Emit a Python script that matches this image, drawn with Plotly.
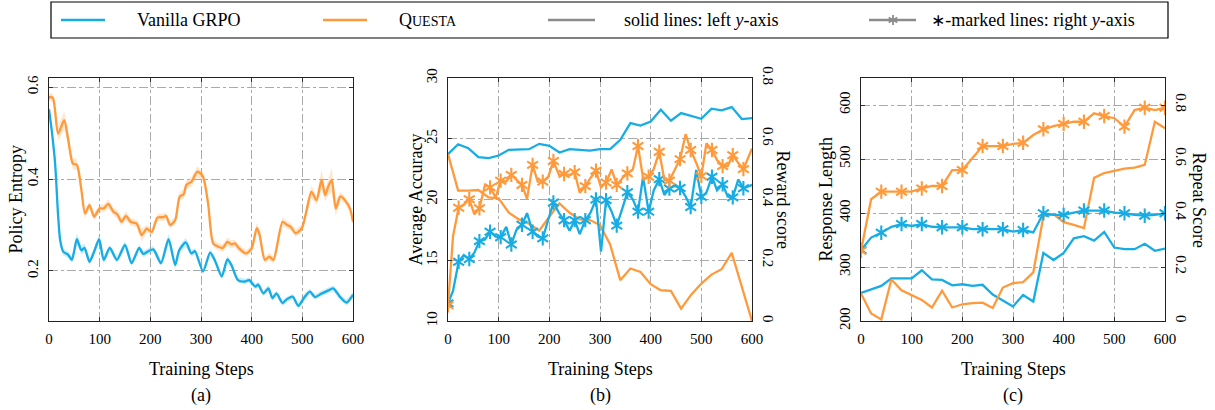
import plotly.graph_objects as go

W, H = 1215, 410
BLUE = '#17ade4'
ORANGE = '#ff9a3c'
BLUE_BAND = 'rgba(23,173,228,0.22)'
ORANGE_BAND = 'rgba(255,154,60,0.25)'
GRAY = '#8c8c8c'
FONT = 'Liberation Serif'

# ---------------- (a) Policy entropy ----------------
ent_steps_blue = [0, 6, 12, 18, 22, 28, 38, 45, 50, 55, 64, 70, 80, 88, 99, 108, 120, 134, 150, 163,
                  178, 186, 196, 206, 221, 236, 249, 257, 270, 281, 288, 304, 318, 327, 341, 352, 360, 373, 387, 395,
                  407, 413, 423, 433, 441, 449, 461, 469, 481, 492, 505, 515, 525, 538, 551, 561, 574, 587, 600]
ent_blue = [0.552, 0.50, 0.435, 0.32, 0.267, 0.242, 0.235, 0.224, 0.245, 0.269, 0.245, 0.25, 0.22, 0.239, 0.269,
            0.224, 0.25, 0.224, 0.2565, 0.217, 0.25, 0.237, 0.243, 0.247, 0.217, 0.269, 0.213, 0.245, 0.262, 0.238,
            0.243, 0.199, 0.24, 0.224, 0.188, 0.225, 0.213, 0.18, 0.177, 0.18, 0.166, 0.17, 0.151, 0.162, 0.141,
            0.151, 0.130, 0.138, 0.144, 0.124, 0.144, 0.155, 0.143, 0.151, 0.157, 0.162, 0.144, 0.131, 0.148]
ent_blue_spread = [0.006, 0.006, 0.006, 0.006, 0.008, 0.008, 0.007, 0.007, 0.007, 0.013, 0.009, 0.010, 0.007, 0.007, 0.011,
                   0.008, 0.007, 0.007, 0.008, 0.007, 0.007, 0.007, 0.007, 0.007, 0.007, 0.012, 0.010, 0.008, 0.010, 0.007,
                   0.007, 0.007, 0.007, 0.007, 0.007, 0.008, 0.007, 0.006, 0.006, 0.006, 0.006, 0.006, 0.006, 0.008, 0.006,
                   0.006, 0.006, 0.006, 0.006, 0.007, 0.008, 0.006, 0.006, 0.006, 0.006, 0.007, 0.006, 0.006, 0.006]

ent_steps_orange = [0, 2, 8, 18, 30, 38, 47, 55, 64, 71, 80, 89, 100, 108, 117, 127, 135, 143, 152, 161,
                    173, 183, 193, 203, 214, 226, 231, 239, 249, 258, 266, 271, 281, 293, 304, 314, 324, 334, 343, 352,
                    360, 367, 375, 389, 400, 410, 415, 426, 435, 443, 461, 470, 477, 487, 499, 507, 518, 528, 538, 545,
                    551, 558, 566, 575, 584, 594, 600]
ent_orange = [0.575, 0.579, 0.576, 0.499, 0.528, 0.485, 0.434, 0.431, 0.376, 0.325, 0.343, 0.318, 0.336, 0.336, 0.346,
              0.329, 0.323, 0.307, 0.320, 0.307, 0.303, 0.278, 0.292, 0.285, 0.316, 0.317, 0.320, 0.300, 0.310, 0.362,
              0.367, 0.387, 0.394, 0.416, 0.405, 0.347, 0.260, 0.253, 0.250, 0.263, 0.258, 0.260, 0.249, 0.238, 0.249,
              0.293, 0.282, 0.224, 0.231, 0.224, 0.307, 0.300, 0.296, 0.282, 0.293, 0.325, 0.372, 0.354, 0.398, 0.365,
              0.383, 0.398, 0.336, 0.362, 0.354, 0.336, 0.307]
ent_orange_spread = [0.008, 0.008, 0.010, 0.016, 0.020, 0.012, 0.012, 0.012, 0.010, 0.010, 0.008, 0.008, 0.008, 0.008, 0.010,
                     0.008, 0.010, 0.008, 0.010, 0.008, 0.008, 0.014, 0.008, 0.008, 0.008, 0.008, 0.008, 0.008, 0.008, 0.010,
                     0.010, 0.010, 0.010, 0.012, 0.010, 0.010, 0.008, 0.008, 0.008, 0.010, 0.008, 0.008, 0.008, 0.007, 0.007,
                     0.012, 0.010, 0.008, 0.008, 0.008, 0.010, 0.008, 0.008, 0.008, 0.008, 0.010, 0.014, 0.010, 0.022, 0.014,
                     0.018, 0.026, 0.016, 0.010, 0.008, 0.008, 0.008]

# ---------------- (b) Accuracy / reward ----------------
acc_steps = [0, 20, 40, 60, 80, 100, 120, 140, 160, 180, 200, 220, 240, 260, 280, 300,
             320, 340, 360, 380, 400, 420, 440, 460, 480, 500, 520, 540, 560, 580, 600]
acc_blue = [23.73, 24.55, 24.22, 23.48, 23.40, 23.62, 24.09, 24.11, 24.14, 24.58, 24.42, 23.87, 24.14, 24.09, 24.03,
            24.14, 24.14, 24.91, 26.29, 26.09, 26.42, 27.39, 26.48, 27.11, 26.89, 26.64, 27.47, 27.33, 27.61, 26.62, 26.70]
acc_orange = [23.73, 20.73, 20.73, 20.78, 20.18, 20.10, 18.91, 18.36, 18.00, 17.43, 18.58, 19.68, 18.91, 18.36, 18.31,
              17.90, 16.30, 13.36, 14.32, 14.04, 13.03, 12.53, 12.48, 11.02, 12.17, 13.08, 13.82, 14.26, 15.61, 12.80, 10.00]

rew_steps = [0, 10, 21, 31, 42, 52, 62, 73, 83, 94, 104, 115, 125, 135, 146, 156, 167, 177, 187, 198,
             208, 219, 229, 240, 250, 260, 271, 281, 292, 302, 312, 323, 333, 344, 354, 365, 375, 385, 396, 406,
             417, 427, 437, 448, 458, 469, 479, 490, 500, 510, 521, 531, 542, 552, 562, 573, 583, 600]
rew_blue = [0.058, 0.100, 0.195, 0.217, 0.204, 0.225, 0.263, 0.268, 0.294, 0.278,
            0.276, 0.310, 0.252, 0.300, 0.317, 0.355, 0.294, 0.278, 0.272, 0.332,
            0.390, 0.356, 0.332, 0.297, 0.332, 0.286, 0.332, 0.356, 0.400, 0.228,
            0.398, 0.360, 0.314, 0.370, 0.424, 0.400, 0.360, 0.475, 0.360, 0.430,
            0.467, 0.415, 0.436, 0.445, 0.438, 0.410, 0.375, 0.497, 0.409, 0.423,
            0.475, 0.430, 0.450, 0.410, 0.407, 0.466, 0.437, 0.448]
rew_orange = [0.052, 0.280, 0.373, 0.382, 0.401, 0.351, 0.371, 0.448, 0.440, 0.407,
              0.462, 0.459, 0.481, 0.464, 0.448, 0.402, 0.514, 0.459, 0.459, 0.475,
              0.527, 0.481, 0.484, 0.481, 0.490, 0.422, 0.444, 0.470, 0.495, 0.440,
              0.456, 0.499, 0.448, 0.470, 0.486, 0.500, 0.576, 0.470, 0.475, 0.500,
              0.557, 0.464, 0.462, 0.500, 0.533, 0.615, 0.563, 0.520, 0.477, 0.585,
              0.563, 0.530, 0.510, 0.510, 0.546, 0.520, 0.500, 0.568]

# ---------------- (c) Length / repeat ----------------
len_steps = [0, 20, 40, 60, 80, 100, 120, 140, 160, 180, 200, 220, 240, 260, 280, 300,
             320, 340, 360, 380, 400, 420, 440, 460, 480, 500, 520, 540, 560, 580, 600]
len_blue = [252, 258, 265, 279, 279, 279, 294, 277, 276, 266, 268, 265, 267, 249, 238, 227,
            248, 236, 326, 313, 326, 353, 357, 349, 365, 336, 333, 333, 343, 330, 334]
len_orange = [251, 214, 203, 277, 257, 248, 239, 225, 256, 225, 231, 233, 234, 224, 262, 270,
              272, 290, 394, 398, 383, 378, 372, 465, 474, 478, 482, 484, 489, 569, 557]
rep_blue = [0.263, 0.309, 0.327, 0.349, 0.359, 0.352, 0.359, 0.349, 0.347, 0.347, 0.347, 0.340, 0.340, 0.340, 0.340,
            0.331, 0.337, 0.328, 0.399, 0.393, 0.393, 0.401, 0.409, 0.409, 0.409, 0.401, 0.399, 0.393, 0.390, 0.393, 0.399]
rep_orange = [0.260, 0.451, 0.479, 0.479, 0.479, 0.479, 0.491, 0.500, 0.500, 0.559, 0.559, 0.602, 0.648, 0.648, 0.648,
              0.656, 0.660, 0.689, 0.710, 0.722, 0.730, 0.738, 0.738, 0.769, 0.759, 0.751, 0.720, 0.781, 0.790, 0.781, 0.790]

x_ticks = [0, 100, 200, 300, 400, 500, 600]

fig = go.Figure()


def band(xs, ys, sp, color, xa, ya):
    up = [y + s for y, s in zip(ys, sp)]
    lo = [y - s for y, s in zip(ys, sp)]
    fig.add_trace(go.Scatter(x=list(xs) + list(xs)[::-1], y=up + lo[::-1], fill='toself',
                             fillcolor=color, line=dict(width=0), mode='lines',
                             hoverinfo='skip', showlegend=False, xaxis=xa, yaxis=ya))


def line(xs, ys, color, xa, ya, shape='linear'):
    fig.add_trace(go.Scatter(x=xs, y=ys, mode='lines', line=dict(color=color, width=2.3, shape=shape,
                                                                  smoothing=0.7),
                             showlegend=False, xaxis=xa, yaxis=ya))


def stars(xs, ys, color, xa, ya):
    for sym in ('y-up-open', 'y-down-open'):
        fig.add_trace(go.Scatter(x=xs, y=ys, mode='markers',
                                 marker=dict(symbol=sym, size=9, color=color,
                                             line=dict(color=color, width=2.1)),
                                 showlegend=False, xaxis=xa, yaxis=ya))


# (a)
band(ent_steps_orange, ent_orange, ent_orange_spread, ORANGE_BAND, 'x', 'y')
band(ent_steps_blue, ent_blue, ent_blue_spread, BLUE_BAND, 'x', 'y')
line(ent_steps_orange, ent_orange, ORANGE, 'x', 'y', 'spline')
line(ent_steps_blue, ent_blue, BLUE, 'x', 'y', 'spline')

# (b)
line(acc_steps, acc_blue, BLUE, 'x2', 'y2')
line(acc_steps, acc_orange, ORANGE, 'x2', 'y2')
line(rew_steps, rew_blue, BLUE, 'x2', 'y3')
stars(rew_steps[:-1:2], rew_blue[:-1:2], BLUE, 'x2', 'y3')
line(rew_steps, rew_orange, ORANGE, 'x2', 'y3')
stars(rew_steps[:-1:2], rew_orange[:-1:2], ORANGE, 'x2', 'y3')

# (c)
line(len_steps, len_blue, BLUE, 'x3', 'y4')
line(len_steps, len_orange, ORANGE, 'x3', 'y4')
line(len_steps, rep_blue, BLUE, 'x3', 'y5')
stars(len_steps[::2], rep_blue[::2], BLUE, 'x3', 'y5')
line(len_steps, rep_orange, ORANGE, 'x3', 'y5')
stars(len_steps[::2], rep_orange[::2], ORANGE, 'x3', 'y5')

TOP, BOT = 78, 321
ydom = [1 - BOT / H, 1 - TOP / H]
panels = [(49, 353), (448, 752), (861, 1165)]

tickfont = dict(family=FONT, size=15, color='black')
grid = dict(showgrid=True, gridcolor='#aaaaaa', griddash='dashdot', gridwidth=1)
common = dict(showline=True, linecolor='#222', linewidth=1.2, ticks='inside', ticklen=4,
              tickcolor='#333', tickfont=tickfont, zeroline=False, automargin=False)


def xax(i):
    l, r = panels[i]
    return dict(domain=[l / W, r / W], range=[0, 600], tickvals=x_ticks, mirror='ticks',
                anchor=['y', 'y2', 'y4'][i], ticklabelstandoff=4, **grid, **common)


layout = dict(width=W, height=H, margin=dict(l=0, r=0, t=0, b=0),
              paper_bgcolor='white', plot_bgcolor='white', showlegend=False,
              font=dict(family=FONT, color='black'))
layout['xaxis'] = xax(0)
layout['xaxis2'] = xax(1)
layout['xaxis3'] = xax(2)
layout['yaxis'] = dict(domain=ydom, range=[0.091, 0.62], tickvals=[0.2, 0.4, 0.6],
                       ticktext=['0.2', '0.4', '0.6'], tickangle=-90, anchor='x', mirror='ticks',
                       ticklabelstandoff=4, **grid, **common)
layout['yaxis2'] = dict(domain=ydom, range=[10, 30], tickvals=[10, 15, 20, 25, 30], tickangle=-90,
                        anchor='x2', mirror=True, ticklabelstandoff=4, **grid, **common)
layout['yaxis3'] = dict(range=[0, 0.8], tickvals=[0, 0.2, 0.4, 0.6, 0.8],
                        ticktext=['0', '0.2', '0.4', '0.6', '0.8'], tickangle=90,
                        overlaying='y2', side='right', anchor='x2', showgrid=False,
                        ticklabelstandoff=4, **common)
layout['yaxis4'] = dict(domain=ydom, range=[200, 650], tickvals=[200, 300, 400, 500, 600], tickangle=-90,
                        anchor='x3', mirror=True, ticklabelstandoff=4, **grid, **common)
layout['yaxis5'] = dict(range=[0, 0.9], tickvals=[0, 0.2, 0.4, 0.6, 0.8],
                        ticktext=['0', '0.2', '0.4', '0.6', '0.8'], tickangle=90,
                        overlaying='y4', side='right', anchor='x3', showgrid=False,
                        ticklabelstandoff=4, **common)

fig.update_layout(**layout)

ann = []


def text(x, y, s, size=18, angle=0, xanchor='center'):
    ann.append(dict(x=x / W, y=1 - y / H, xref='paper', yref='paper', text=s, showarrow=False,
                    textangle=angle, xanchor=xanchor, yanchor='middle',
                    font=dict(family=FONT, size=size, color='black')))


mid_y = (TOP + BOT) / 2
for (l, r), lab in zip(panels, ['(a)', '(b)', '(c)']):
    c = (l + r) / 2
    text(c, 369, 'Training Steps')
    text(c, 395, lab)
text(15, mid_y, 'Policy Entropy', angle=-90)
text(415, mid_y, 'Average Accuracy', angle=-90)
text(783, mid_y, 'Reward score', angle=90)
text(825, mid_y, 'Response Length', angle=-90)
text(1199, mid_y, 'Repeat Score', angle=90)

# legend box
LY = 20
text(135, LY, 'Vanilla GRPO', xanchor='left')
text(397, LY, 'Q<span style="font-size:14px">UESTA</span>', xanchor='left')
text(622, LY, 'solid lines: left <i>y</i>-axis', xanchor='left')
text(929, LY, '<span style="font-family:DejaVu Sans;font-size:17px">∗</span>-marked lines: right <i>y</i>-axis',
     xanchor='left')

shapes = []


def pline(x0, y0, x1, y1, color, width):
    shapes.append(dict(type='line', xref='paper', yref='paper', x0=x0 / W, x1=x1 / W,
                       y0=1 - y0 / H, y1=1 - y1 / H, line=dict(color=color, width=width)))


shapes.append(dict(type='rect', xref='paper', yref='paper', x0=51 / W, x1=1168 / W,
                   y0=1 - 38 / H, y1=1 - 2 / H, line=dict(color='black', width=1.2)))
pline(61, LY, 105, LY, BLUE, 2.4)
pline(323, LY, 367, LY, ORANGE, 2.4)
pline(548, LY, 595, LY, GRAY, 2.4)
pline(869, LY, 916, LY, GRAY, 2.4)
# star glyph on legend line
cx, r = 893, 5
pline(cx, LY - r, cx, LY + r, GRAY, 1.8)
pline(cx - 4.3, LY - 2.5, cx + 4.3, LY + 2.5, GRAY, 1.8)
pline(cx - 4.3, LY + 2.5, cx + 4.3, LY - 2.5, GRAY, 1.8)

fig.update_layout(annotations=ann, shapes=shapes)
fig.write_html('out.html')
